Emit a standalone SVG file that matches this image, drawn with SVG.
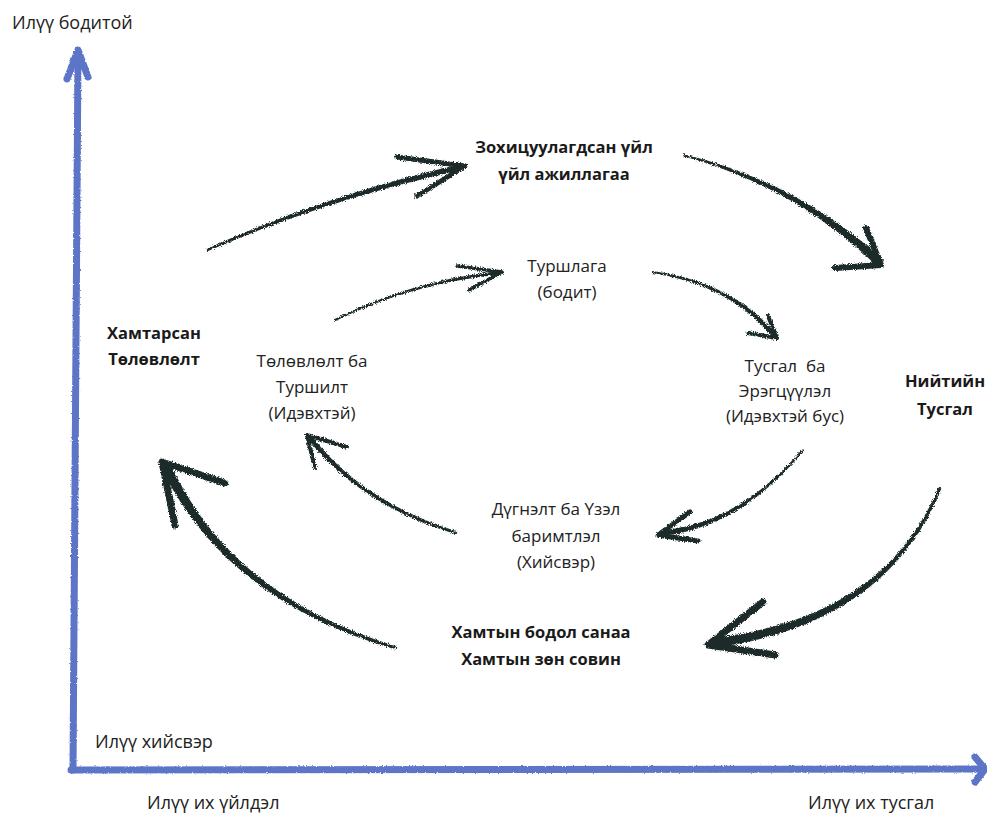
<svg xmlns="http://www.w3.org/2000/svg" width="987" height="813" viewBox="0 0 987 813">
<defs>
<style>
.lbl{font-family:"Open Sans","Noto Sans","DejaVu Sans",sans-serif;font-size:17px;fill:#222;text-anchor:middle}
.b{font-weight:700;font-size:16.5px;fill:#1a1a1a}
.ax{font-family:"Open Sans","Noto Sans","DejaVu Sans",sans-serif;font-size:18px;fill:#222}
.ink{fill:#1d2b2b}
.head{fill:none;stroke:#1d2b2b;stroke-linecap:round;stroke-linejoin:round}
.axis{fill:none;stroke:#5b74c6;stroke-width:7;stroke-linecap:round;stroke-linejoin:round}
</style>
<filter id="rough" filterUnits="userSpaceOnUse" x="0" y="0" width="987" height="813">
<feTurbulence type="fractalNoise" baseFrequency="1.1" numOctaves="2" seed="4" result="n"/>
<feDisplacementMap in="SourceGraphic" in2="n" scale="4.5" xChannelSelector="R" yChannelSelector="G"/>
</filter>
<filter id="roughA" filterUnits="userSpaceOnUse" x="0" y="0" width="987" height="813">
<feTurbulence type="fractalNoise" baseFrequency="0.6" numOctaves="2" seed="7" result="n"/>
<feDisplacementMap in="SourceGraphic" in2="n" scale="2.5" xChannelSelector="R" yChannelSelector="G"/>
</filter>
</defs>
<rect width="987" height="813" fill="#ffffff"/>

<g id="axes" filter="url(#roughA)">
<path class="axis" d="M73,770 L78,52"/>
<path class="axis" d="M67,79 L78,50 L88,77" stroke-width="6"/>
<path class="axis" d="M71,770 L984,769"/>
<path class="axis" d="M975,757 L985,769 L975,782" stroke-width="6"/>
</g>

<g id="connectors" filter="url(#rough)">
<g id="c1">
<path class="ink" d="M207.5,251.15 Q330.65,198 462.65,169.93 L461.35,164.07 Q329.35,194 206.5,248.85 Z"/>
<polyline class="head" stroke-width="5" points="397,157 465,166 417,196"/>
</g>
<g id="c2">
<path class="ink" d="M682.75,155.97 Q796.68,187.41 876.9,266.26 L883.1,259.74 Q799.32,182.59 683.25,154.03 Z"/>
<polyline class="head" stroke-width="6" points="866,228 881,265 835,268"/>
</g>
<g id="c3">
<path class="ink" d="M938.61,487.43 Q883.17,619.31 711.4,638.04 L712.6,647.96 Q886.83,624.69 941.39,488.57 Z"/>
<polyline class="head" stroke-width="7" points="763,602 708,645 775,655"/>
</g>
<g id="c4">
<path class="ink" d="M396.43,646.56 Q230.02,595.45 170.53,463.87 L161.47,468.13 Q225.98,600.55 395.57,649.44 Z"/>
<polyline class="head" stroke-width="7" points="225,483 162,462 175,525"/>
</g>
<g id="c5">
<path class="ink" d="M335.44,320.9 Q412.39,283.35 498.18,274.74 L497.82,271.26 Q411.61,280.65 334.56,319.1 Z"/>
<polyline class="head" stroke-width="3.5" points="457,266 502,272 469,290"/>
</g>
<g id="c6">
<path class="ink" d="M651.86,272.99 Q729.2,284.56 772.09,336.62 L775.91,333.38 Q730.8,281.44 652.14,271.01 Z"/>
<polyline class="head" stroke-width="4" points="768,316 777,338 748,333"/>
</g>
<g id="c7">
<path class="ink" d="M802.24,449.36 Q737.99,524.28 661.73,530.01 L662.27,535.99 Q740.01,527.72 803.76,450.64 Z"/>
<polyline class="head" stroke-width="5" points="690,512 658,535 698,541"/>
</g>
<g id="c8">
<path class="ink" d="M457.44,531.57 Q363.09,502.32 311.96,436.45 L308.04,439.55 Q360.91,505.68 456.56,534.43 Z"/>
<polyline class="head" stroke-width="4" points="347,447 307,435 315,468"/>
</g>
</g>

<g id="n-top-axis"><text class="ax" x="12" y="29" font-size="18.5">Илүү бодитой</text></g>
<g id="n-coord"><text class="lbl b" x="564" y="153">Зохицуулагдсан үйл</text><text class="lbl b" x="564" y="180">үйл ажиллагаа</text></g>
<g id="n-exp"><text class="lbl" x="567" y="272">Туршлага</text><text class="lbl" x="567" y="298">(бодит)</text></g>
<g id="n-joint"><text class="lbl b" x="154" y="339">Хамтарсан</text><text class="lbl b" x="154" y="365">Төлөвлөлт</text></g>
<g id="n-plan"><text class="lbl" x="312" y="367">Төлөвлөлт ба</text><text class="lbl" x="312" y="393">Туршилт</text><text class="lbl" x="312" y="419">(Идэвхтэй)</text></g>
<g id="n-refl"><text class="lbl" x="785" y="372" xml:space="preserve">Тусгал  ба</text><text class="lbl" x="785" y="397">Эрэгцүүлэл</text><text class="lbl" x="785" y="422">(Идэвхтэй бус)</text></g>
<g id="n-public"><text class="lbl b" x="945" y="387">Нийтийн</text><text class="lbl b" x="945" y="415">Тусгал</text></g>
<g id="n-concl"><text class="lbl" x="556" y="515">Дүгнэлт ба Үзэл</text><text class="lbl" x="556" y="542">баримтлэл</text><text class="lbl" x="556" y="568">(Хийсвэр)</text></g>
<g id="n-collective"><text class="lbl b" x="541" y="638">Хамтын бодол санаа</text><text class="lbl b" x="541" y="665">Хамтын зөн совин</text></g>
<g id="n-abstract"><text class="ax" x="95" y="748">Илүү хийсвэр</text></g>
<g id="n-action"><text class="ax" x="147" y="809">Илүү их үйлдэл</text></g>
<g id="n-reflect-axis"><text class="ax" x="808" y="809">Илүү их тусгал</text></g>
</svg>
